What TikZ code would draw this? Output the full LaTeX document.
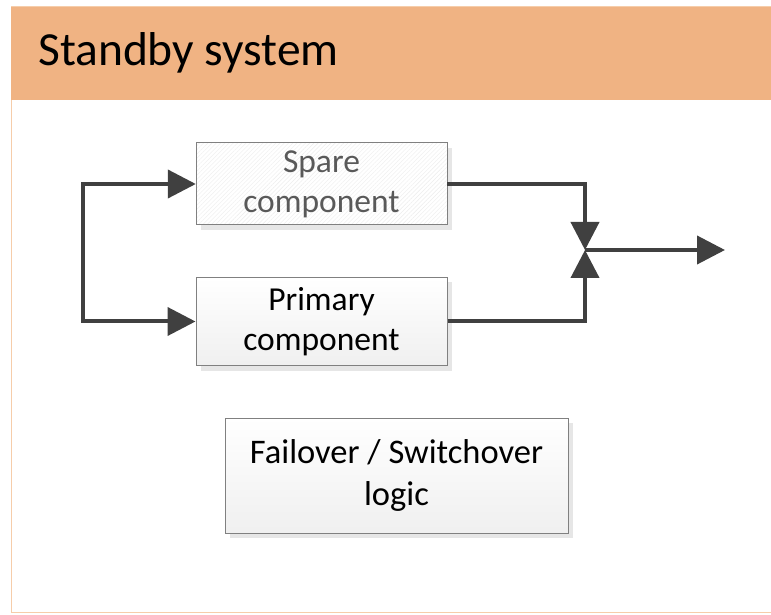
\documentclass[tikz,border=0pt]{standalone}
\usepackage{fontspec}
\setmainfont{Carlito}
\usetikzlibrary{arrows.meta,shadows,patterns.meta}
\definecolor{headerfill}{RGB}{240,179,131}
\definecolor{frameline}{RGB}{246,205,170}
\definecolor{wire}{RGB}{64,64,64}
\definecolor{boxline}{RGB}{128,128,128}
\definecolor{shade}{RGB}{230,230,230}
\definecolor{softtext}{RGB}{89,89,89}
\tikzset{
  x=1pt, y=1pt,
  block/.style={draw=boxline, line width=1pt, align=center, inner sep=0pt,
    font=\fontsize{33.5}{40}\selectfont,
    drop shadow={shadow xshift=5pt, shadow yshift=-5pt, fill=shade, opacity=1}},
  wireline/.style={draw=wire, line width=4pt},
  tip/.style={-{Triangle[length=28pt,width=28pt]}},
}
\begin{document}
\begin{tikzpicture}
\useasboundingbox (0,0) rectangle (771,614);
% frame and header band
\draw[frameline, line width=1pt, fill=white] (11,2) rectangle (780,607);
\fill[headerfill] (11,514) rectangle (780,607);
\node[anchor=base west, font=\fontsize{47.5}{52}\selectfont, inner sep=0pt] (title) at (38,548) {Standby system};

% blocks
\node[block, minimum width=251pt, minimum height=82pt, text=softtext,
      preaction={fill=white},
      pattern={Lines[angle=45,distance=3pt,line width=0.4pt]}, pattern color=gray!14]
  (spare) at (321.5,430) {Spare\\component};
\node[block, minimum width=251pt, minimum height=88pt,
      top color=white, bottom color=gray!12]
  (primary) at (321.5,292.5) {Primary\\component};
\node[block, minimum width=343pt, minimum height=115pt,
      top color=white, bottom color=gray!12, font=\fontsize{34.5}{42}\selectfont]
  (logic) at (396.5,138.5) {Failover / Switchover\\logic};

% junction points
\coordinate (split) at (83,0);
\coordinate (join) at (585,364);
\coordinate (out) at (725,364);

% feeds into the two components
\draw[wireline, tip] (split |- primary.west) -- (split |- spare.west) -- (spare.west);
\draw[wireline, tip] (split |- spare.west) -- (split |- primary.west) -- (primary.west);

% outputs merging at the junction
\draw[wireline, tip] (spare.east) -| (join);
\draw[wireline, tip] (primary.east) -| (join);
\draw[wireline, tip] (join) -- (out);
\end{tikzpicture}
\end{document}
